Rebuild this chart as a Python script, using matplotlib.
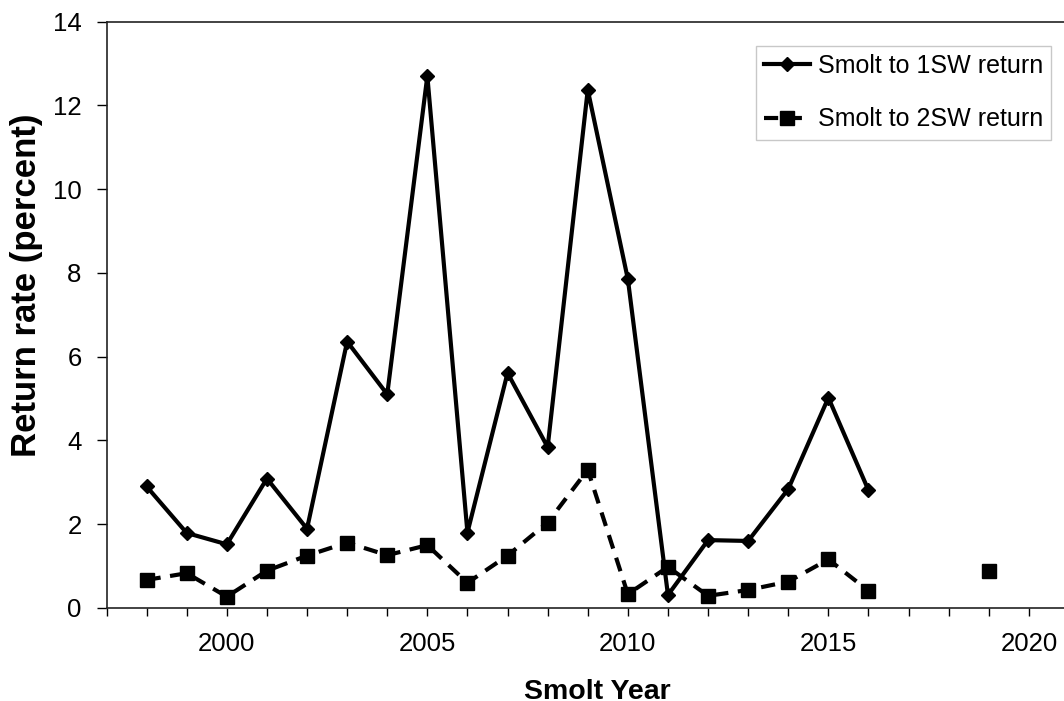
import matplotlib
matplotlib.use("Agg")
import matplotlib.pyplot as plt
import numpy as np
from matplotlib.ticker import MultipleLocator

years_1sw = list(range(1998, 2017))
return_1sw = [2.90, 1.79, 1.52, 3.09, 1.89, 6.36, 5.10, 12.70, 1.80, 5.61,
              3.84, 12.37, 7.85, 0.31, 1.62, 1.60, 2.84, 5.02, 2.81]

years_2sw = list(range(1998, 2020))
return_2sw = [0.67, 0.83, 0.27, 0.89, 1.25, 1.56, 1.26, 1.50, 0.60, 1.25,
              2.04, 3.30, 0.33, 0.98, 0.29, 0.43, 0.63, 1.16, 0.41,
              np.nan, np.nan, 0.89]

labels = ["Smolt to 1SW return", "Smolt to 2SW return"]


def main():
    plt.rcParams["font.family"] = ["Liberation Sans", "DejaVu Sans"]

    fig = plt.figure(figsize=(10.64, 7.01), dpi=100)
    ax = fig.add_axes([0.1001, 0.1327, 0.9046, 0.8366])

    ax.plot(years_1sw, return_1sw, color="black", linewidth=3, marker="D",
            markersize=6.8, label=labels[0])
    ax.plot(years_2sw, return_2sw, color="black", linewidth=3,
            linestyle=(0, (3.4, 2.3)), marker="s", markersize=9.5,
            label=labels[1])

    ax.set_xlim(1997, 2021)
    ax.set_ylim(0, 14)
    ax.xaxis.set_major_locator(MultipleLocator(5))
    ax.xaxis.set_minor_locator(MultipleLocator(1))
    ax.yaxis.set_major_locator(MultipleLocator(2))

    ax.tick_params(axis="x", which="both", direction="out", length=6, width=1,
                   labelsize=18.5, pad=11)
    ax.tick_params(axis="y", which="both", direction="out", length=7, width=1,
                   labelsize=18.5, pad=11)

    ax.spines["right"].set_visible(False)
    for side in ["left", "top", "bottom"]:
        ax.spines[side].set_linewidth(1.2)
        ax.spines[side].set_color("#222222")

    ax.set_xlabel("Smolt Year", fontsize=20.5, fontweight="bold")
    ax.set_ylabel("Return rate (percent)", fontsize=25, fontweight="bold")
    ax.xaxis.set_label_coords(0.5096, -0.121)
    ax.yaxis.set_label_coords(-0.066, 0.55)

    leg = ax.legend(loc="upper left", bbox_to_anchor=(756 / 1064, 1 - 46 / 701),
                    bbox_transform=fig.transFigure, borderaxespad=0,
                    fontsize=18, fancybox=False, framealpha=1,
                    edgecolor="#c8c8c8", borderpad=0.32, handlelength=1.85,
                    handletextpad=0.3, labelspacing=1.18)
    leg.get_frame().set_linewidth(1)

    fig.savefig("out.png", dpi=100)


if __name__ == "__main__":
    main()
